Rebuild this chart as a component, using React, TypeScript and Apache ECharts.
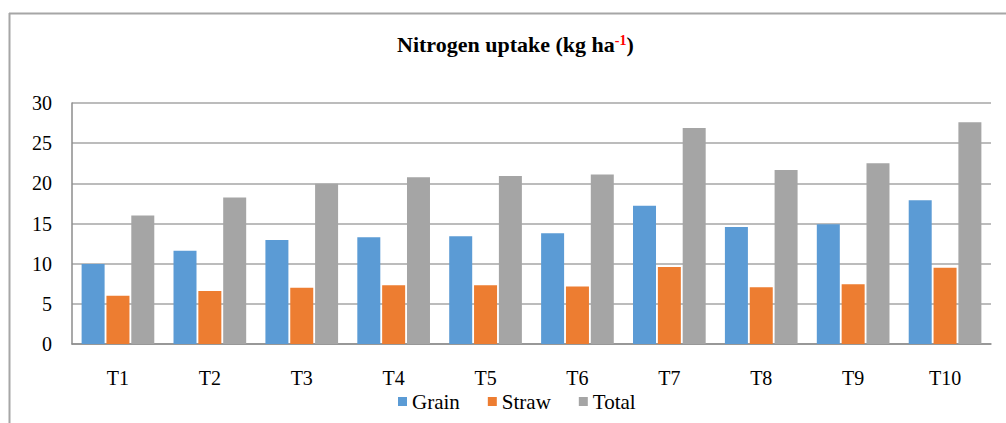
import React, { useEffect, useRef } from "react";
import * as echarts from "echarts";

const categories = ["T1", "T2", "T3", "T4", "T5", "T6", "T7", "T8", "T9", "T10"];
const grain = [9.96, 11.6, 12.95, 13.3, 13.4, 13.8, 17.2, 14.55, 14.9, 17.9];
const straw = [6.0, 6.6, 7.0, 7.3, 7.3, 7.15, 9.6, 7.05, 7.45, 9.5];
const total = [16.0, 18.25, 19.95, 20.75, 20.9, 21.1, 26.9, 21.65, 22.5, 27.6];
const yTicks = { min: 0, max: 30, interval: 5 };

const FONT = "Liberation Serif";

export default function App() {
  const ref = useRef<HTMLDivElement>(null);
  useEffect(() => {
    if (!ref.current) return;
    const chart = echarts.init(ref.current, null, { renderer: "svg" });
    const barBase = { type: "bar", barWidth: 23, barGap: "8%" };
    chart.setOption({
      animation: false,
      backgroundColor: "#ffffff",
      textStyle: { fontFamily: FONT },
      title: {
        text: "{a|Nitrogen uptake (kg ha}{s|-1}{a|)}",
        left: 392,
        top: 28,
        textStyle: {
          fontFamily: FONT,
          rich: {
            a: { fontFamily: FONT, fontSize: 22, fontWeight: "bold", color: "#000" },
            s: { fontFamily: FONT, fontSize: 14, fontWeight: "bold", color: "#ff0000", verticalAlign: "top", padding: [0, 0, 9, 0] },
          },
        },
      },
      graphic: [
        { type: "line", shape: { x1: 9.5, y1: 13, x2: 9.5, y2: 423 }, style: { stroke: "#a6a6a6", lineWidth: 2 } },
        { type: "line", shape: { x1: 9, y1: 13.5, x2: 1006, y2: 13.5 }, style: { stroke: "#a6a6a6", lineWidth: 2 } },
      ],
      grid: { left: 72, right: 15, top: 103, bottom: 79, containLabel: false },
      legend: {
        data: ["Grain", "Straw", "Total"],
        bottom: 6,
        left: 393,
        itemWidth: 9,
        itemHeight: 9,
        itemGap: 28,
        icon: "rect",
        textStyle: { fontFamily: FONT, fontSize: 21, color: "#000" },
      },
      xAxis: {
        type: "category",
        data: categories,
        axisLine: { lineStyle: { color: "#8c8c8c", width: 1.5 } },
        axisTick: { show: false },
        axisLabel: { fontFamily: FONT, fontSize: 20, color: "#000", margin: 24 },
      },
      yAxis: {
        type: "value",
        min: yTicks.min,
        max: yTicks.max,
        interval: yTicks.interval,
        axisLine: { show: true, lineStyle: { color: "#8c8c8c", width: 1.5 } },
        axisTick: { show: false },
        axisLabel: { fontFamily: FONT, fontSize: 20, color: "#000", margin: 20 },
        splitLine: { lineStyle: { color: "#a6a6a6", width: 1.5 } },
      },
      series: [
        { ...barBase, name: "Grain", data: grain, itemStyle: { color: "#5b9bd5" } },
        { ...barBase, name: "Straw", data: straw, itemStyle: { color: "#ed7d31" } },
        { ...barBase, name: "Total", data: total, itemStyle: { color: "#a5a5a5" } },
      ],
    });
    return () => chart.dispose();
  }, []);
  return (
    <div
      ref={ref}
      style={{ position: "fixed", left: 0, top: 0, width: 1006, height: 423 }}
    />
  );
}
